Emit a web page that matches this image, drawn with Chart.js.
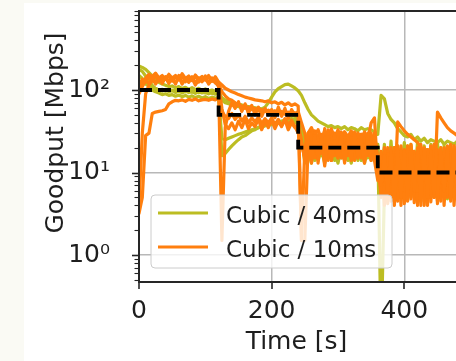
<!DOCTYPE html>
<html><head><meta charset="utf-8">
<script src="https://cdn.jsdelivr.net/npm/chart.js@4/dist/chart.umd.min.js"></script>
<style>
html,body{margin:0;padding:0;overflow:hidden;background:#fafaf4;}
#c{position:absolute;left:0;top:0;}
</style></head><body>
<canvas id="c" width="480" height="361"></canvas>
<script>
// ---------- data ----------
const time = [0,5,10,15,20,25,30,35,40,45,50,55,60,65,70,75,80,85,90,95,
100,105,110,115,120,125,130,135,140,145,150,155,160,165,170,175,180,185,190,195,
200,205,210,215,220,225,230,235,240,245,250,255,260,265,270,275,280,285,290,295,
300,305,310,315,320,325,330,335,340,345,350,355,360,365,370,375,380,385,390,395,
400,405,410,415,420,425,430,435,440,445,450,455,460,465,470,475,480,485,490,495];

// Cubic / 40ms runs (Mbps)
const cubic40_run1 = [195,188,178,162,148,134,124,118,114,110, 112,106,110,104,108,102,107,101,105,99,
103,97,100,95,97,80,76,73,70,69, 67,66,64,63,62,61,60,59,62,70,
82,95,104,110,116,118,112,106,98,86, 70,58,50,46,42,40,38,36,37,35,
36,34,36,33,35,34,32,35,33,34, 33,31,29,86,78,52,44,40,34,31,
28,27,29,25,27,24,26,23,25,24, 23,25,22,24,23,22,24,21,23,22];
const cubic40_run2 = [178,168,148,128,114,104,100,97,102,95, 100,93,98,92,97,93,96,91,95,92,
94,90,93,89,92,16,17,19,21,23, 25,27,28,30,32,33,35,36,37,38,
39,40,41,42,43,44,45,44,40,30, 22,15,26,14,24,16,27,15,25,14,
26,15,24,14,27,16,25,14,23,15, 24,16,22,0.1,6,18,7,20,6,19,
5,21,6,18,5,20,7,19,5,18, 6,20,5,19,7,18,5,20,6,19];
const cubic40_run3 = [150,138,124,110,100,95,92,88,90,86, 88,84,87,83,86,82,85,81,84,80,
83,79,82,80,81,26,25,26,27,28, 29,30,31,32,33,34,35,36,37,38,
38,39,40,39,41,40,42,41,38,28, 13,18,13,20,14,19,13,21,14,18,
13,20,14,19,13,21,14,18,13,19, 14,20,15,6,17,5,19,4.5,18,5,
20,4.6,17,5,19,4.5,18,6,17,5, 19,5,18,4.8,17,6,19,5,18,5];
const cubic40_run4 = [130,124,118,112,108,104,100,102,98,100, 97,101,96,99,95,98,94,97,93,96,
92,95,91,94,90,75,70,68,66,64, 63,61,62,60,58,59,57,56,57,55,
54,55,53,52,53,51,50,48,45,35, 28,17,30,16,28,18,29,17,27,16,
28,17,29,16,27,18,28,16,27,17, 28,17,20,8,22,7,24,6,21,8,
23,7,22,6,24,8,21,7,22,6, 23,7,21,8,22,6,24,7,21,8];

// Cubic / 10ms runs (Mbps)
const cubic10_run1 = [3.2,5,28,30,52,54,55,56,58,68, 72,75,74,76,73,77,75,78,74,76,
77,75,78,76,80,55,48,45,52,44, 50,42,48,40,46,41,47,39,45,40,
46,38,44,37,45,38,43,36,30,22, 15,30,14,32,13,29,15,33,14,30,
15,31,14,28,16,30,15,29,14,28, 16,30,14,5,20,4.2,18,5,21,4,
19,5,22,4.3,20,5,18,4,21,5, 19,4.5,20,5,22,4,19,5,20,4.5];
const cubic10_run2 = [4,30,90,115,130,125,140,120,145,125, 140,118,150,122,138,128,145,120,140,126,
148,122,140,125,110,1.5,35,55,70,60, 72,55,68,52,65,50,62,48,60,50,
58,46,62,48,60,45,58,50,55,40, 30,16,32,15,28,17,34,14,30,16,
28,15,31,16,29,14,30,15,27,16, 30,14,8,18,5,20,4.5,19,5,21,
4.2,20,5,18,4,22,5,19,4.4,21, 5,18,4,20,5,21,4.5,19,5,20];
const cubic10_run3 = [100,120,140,155,145,160,140,150,135,155, 140,150,132,158,138,148,130,152,136,146,
132,150,128,145,125,115,105,100,95,92, 88,85,82,80,78,76,75,74,72,74,
70,72,68,71,66,70,65,68,64,1.5, 20,30,35,28,33,25,32,27,34,26,
33,25,31,27,32,24,30,26,31,25, 40,46,10,15,4,17,6,20,4.5,18,
6,21,4.8,17,6,20,4,18,5.5,22, 4.2,18,6,21,4.5,19,5.5,17,4,21];
const cubic10_run4 = [110,135,125,145,130,150,128,142,135,148, 128,145,135,150,126,140,132,148,125,142,
135,145,128,140,120,95,85,78,75,70, 66,64,60,62,58,60,56,58,55,57,
54,56,52,55,51,54,50,53,48,1.5, 1.5,22,16,30,15,28,16,31,15,29,
16,30,14,28,15,31,16,29,14,30, 15,28,12,6,19,4.5,20,5,41,36,
32,29,27,25,23,20,8,19,5,22, 4.5,20,6,19,4.8,21,5.2,18,6,20];
const cubic10_run5 = [90,110,130,120,140,118,135,125,142,120, 138,122,145,118,136,124,140,115,133,128,
140,118,135,122,115,60,38,34,40,33, 42,35,44,34,40,36,45,33,41,35,
43,34,42,36,44,33,40,35,38,25, 14,26,13,28,15,25,12,27,14,24,
15,27,13,26,14,28,15,25,13,27, 14,26,15,7,16,6,18,4,20,5,
18,4.5,21,6,19,4,20,5,18,5, 54,46,40,35,32,30,28,27,26,25];

// bottleneck capacity (dashed step)
const stepTimes = [0,120,120,240,240,360,360,500];
const stepRates = [100,100,50,50,20,20,10,10];

const seriesNames = ['Cubic / 40ms','Cubic / 10ms'];
const xTicks = [0,200,400];
const yMajor = [1,10,100];
const yTickLabels = ['10\u2070','10\u00b9','10\u00b2'];
const xTitle = 'Time [s]';
const yTitle = 'Goodput [Mbps]';

// ---------- style ----------
const C40 = '#bcbd22', C10 = '#ff7f0e';
const FONT = "'DejaVu Sans', sans-serif";
const TEXT = '#1e1e1e', SPINE = '#262626', GRID = '#b8b8b8';
const Y_MIN = 0.471, Y_MAX = 907, X_MAX = 490;
const AREA = {left: 139, top: 11, right: 464, bottom: 282};

const yAllTicks = [];
for (let e = -1; e <= 2; e++) for (let m = 1; m <= 9; m++) {
  const v = m * Math.pow(10, e);
  if (v >= Y_MIN && v <= Y_MAX) yAllTicks.push(e >= 0 && m === 1 ? Math.pow(10, e) : v);
}

const pts = arr => time.map((t, i) => ({x: t, y: arr[i]}));
const lineDs = (arr, col) => ({data: pts(arr), borderColor: col, borderWidth: 3.2, pointRadius: 0, fill: false, tension: 0, borderJoinStyle: 'round', borderCapStyle: 'round'});

const datasets = [
  {data: stepTimes.map((t,i)=>({x:t,y:stepRates[i]})), borderColor:'#000', borderWidth:3.8, borderDash:[13,6], pointRadius:0, fill:false, tension:0},
  lineDs(cubic10_run5, C10), lineDs(cubic10_run4, C10), lineDs(cubic10_run3, C10), lineDs(cubic10_run2, C10), lineDs(cubic10_run1, C10),
  lineDs(cubic40_run4, C40), lineDs(cubic40_run3, C40), lineDs(cubic40_run2, C40), lineDs(cubic40_run1, C40)
];

const decor = {
  id: 'decor',
  beforeDraw(chart) {
    const c = chart.ctx; c.save();
    c.fillStyle = '#fafaf4'; c.fillRect(0, 0, chart.width, chart.height);
    c.fillStyle = '#ffffff'; c.fillRect(24, 3, chart.width - 24, chart.height - 3);
    c.restore();
  },
  afterDatasetsDraw(chart) {
    const c = chart.ctx; c.save();
    const x0 = 151, y0 = 195, w = 241, h = 73, r = 4;
    c.beginPath();
    c.moveTo(x0 + r, y0); c.lineTo(x0 + w - r, y0); c.arcTo(x0 + w, y0, x0 + w, y0 + r, r);
    c.lineTo(x0 + w, y0 + h - r); c.arcTo(x0 + w, y0 + h, x0 + w - r, y0 + h, r);
    c.lineTo(x0 + r, y0 + h); c.arcTo(x0, y0 + h, x0, y0 + h - r, r);
    c.lineTo(x0, y0 + r); c.arcTo(x0, y0, x0 + r, y0, r); c.closePath();
    c.fillStyle = 'rgba(255,255,255,0.8)'; c.fill();
    c.strokeStyle = '#cccccc'; c.lineWidth = 1; c.stroke();
    const rows = [[C40, 213, 222.5], [C10, 247, 256.5]];
    rows.forEach((rw, i) => {
      c.beginPath(); c.moveTo(158, rw[1]); c.lineTo(208, rw[1]);
      c.strokeStyle = rw[0]; c.lineWidth = 3; c.stroke();
      c.fillStyle = TEXT; c.font = '23px ' + FONT; c.textAlign = 'left'; c.textBaseline = 'alphabetic';
      c.fillText(seriesNames[i], 226, rw[2]);
    });
    c.restore();
  },
  afterDraw(chart) {
    const c = chart.ctx, a = chart.chartArea, ys = chart.scales.y, xs = chart.scales.x;
    c.save();
    c.strokeStyle = SPINE;
    yAllTicks.forEach(v => {
      const p = Math.round(ys.getPixelForValue(v)) + 0.5;
      const major = yMajor.some(m => Math.abs(m - v) < 1e-9);
      c.lineWidth = major ? 1.6 : 1.1;
      c.beginPath(); c.moveTo(a.left - (major ? 7 : 4.5), p); c.lineTo(a.left, p); c.stroke();
    });
    xTicks.forEach(v => {
      const p = Math.round(xs.getPixelForValue(v));
      c.lineWidth = 1.6;
      c.beginPath(); c.moveTo(p, a.bottom); c.lineTo(p, a.bottom + 7); c.stroke();
    });
    c.lineWidth = 2;
    c.beginPath();
    c.moveTo(a.right + 1, a.top); c.lineTo(a.left, a.top); c.lineTo(a.left, a.bottom); c.lineTo(a.right + 1, a.bottom);
    c.stroke();
    c.fillStyle = TEXT; c.font = '25px ' + FONT;
    c.textAlign = 'center'; c.textBaseline = 'alphabetic';
    c.fillText(xTitle, 296.5, 349);
    c.translate(63, 133); c.rotate(-Math.PI / 2);
    c.fillText(yTitle, 0, 0);
    c.restore();
  }
};

const chart = new Chart(document.getElementById('c'), {
  type: 'line',
  data: {datasets},
  plugins: [decor],
  options: {
    responsive: false, animation: false, events: [],
    layout: {autoPadding: false, padding: {top: AREA.top, right: 480 - AREA.right, left: 0, bottom: 0}},
    plugins: {legend: {display: false}, tooltip: {enabled: false}},
    scales: {
      x: {
        type: 'linear', min: 0, max: X_MAX,
        afterBuildTicks(s) { s.ticks = xTicks.map(v => ({value: v})); },
        afterFit(s) { s.height = 361 - AREA.bottom; s.paddingLeft = 0; s.paddingRight = 0; },
        grid: {drawTicks: false, color: GRID, lineWidth: 1.5},
        border: {display: false},
        ticks: {autoSkip: false, maxRotation: 0, padding: 14, font: {family: FONT, size: 25}, color: TEXT}
      },
      y: {
        type: 'logarithmic', min: Y_MIN, max: Y_MAX,
        afterBuildTicks(s) { s.ticks = yAllTicks.map(v => ({value: v})); },
        afterFit(s) { s.width = AREA.left; s.paddingTop = 0; s.paddingBottom = 0; },
        grid: {drawTicks: false, lineWidth: 1.5,
          color: c => (c.tick && yMajor.some(m => Math.abs(m - c.tick.value) < 1e-9)) ? GRID : 'rgba(0,0,0,0)'},
        border: {display: false},
        ticks: {autoSkip: false, padding: 29, font: {family: FONT, size: 25}, color: TEXT,
          callback: v => { const i = yMajor.findIndex(m => Math.abs(m - v) < 1e-9); return i >= 0 ? yTickLabels[i] : ''; }}
      }
    }
  }
});
const ca = chart.chartArea, pad = chart.options.layout.padding;
const dTop = AREA.top - ca.top, dRight = ca.right - AREA.right;
if (Math.abs(dTop) > 0.5 || Math.abs(dRight) > 0.5) {
  pad.top += dTop; pad.right += dRight; chart.update();
}
</script></body></html>
